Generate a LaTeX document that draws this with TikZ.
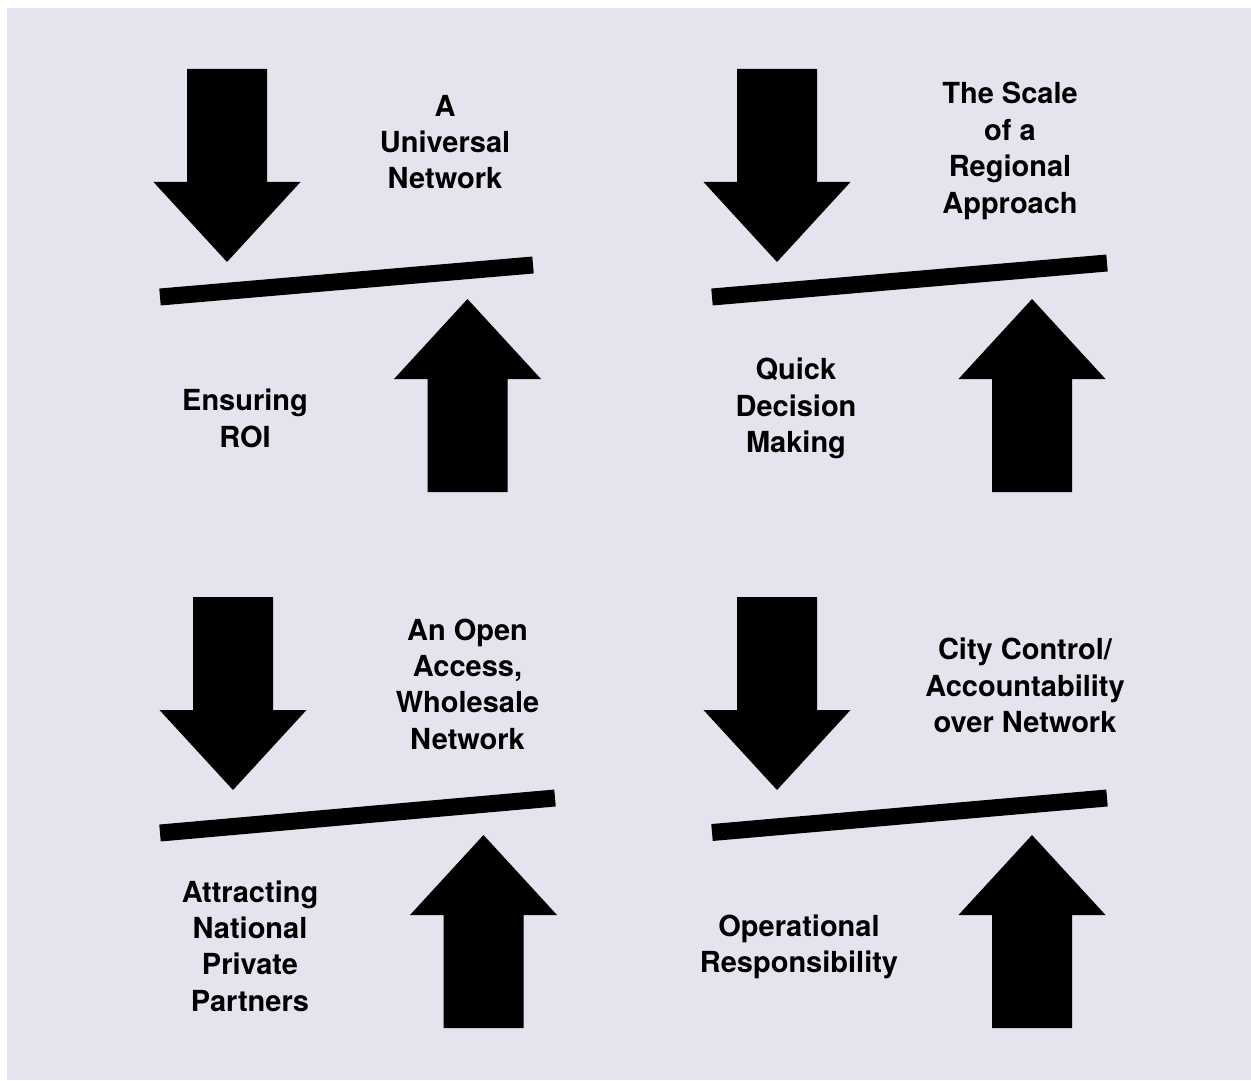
\documentclass[tikz,border=0pt]{standalone}
\usepackage{fontspec}
\usepackage{xcolor}
\usepackage{tikz}
\setmainfont{TeX Gyre Heros}
\definecolor{softgrey}{RGB}{228, 228, 238}

\tikzset{
	pushdown/.pic = {\fill (-40,0) -- (40,0) -- (40,113) -- (73.5,113) -- (0,193) -- (-73.5,113) -- (-40,113) -- cycle;},
	pushup/.pic = {\fill (0,0) -- (73.5,80) -- (40,80) -- (40,193) -- (-40,193) -- (-40,80) -- (-73.5,80) -- cycle;}
}

\begin{document}
\begin{tikzpicture}[x = 0.5pt, y = -0.5pt,
	lbl/.style = {align = center, inner sep = 0pt, font = \bfseries\fontsize{14.5}{18.2}\selectfont},
	bar/.style = {line width = 8.5pt}]
	\useasboundingbox (0,0) rectangle (1251,1080);
	\fill [white] (0,0) rectangle (1251,1080);
	\fill [softgrey] (7,8) rectangle (1251,1080);
	% top left
	\pic at (227,69) {pushdown};
	\pic at (467.5,299) {pushup};
	\draw [bar] (160,297) -- (533,265);
	\node (univ) at (445,142) [lbl] {A\\Universal\\Network};
	\node (roi) at (245,418.5) [lbl] {Ensuring\\ROI};
	% top right
	\pic at (777,69) {pushdown};
	\pic at (1032,299) {pushup};
	\draw [bar] (712,297) -- (1107,263);
	\node (scale) at (1010,151) [lbl] {The Scale\\of a\\Regional\\Approach};
	\node (quick) at (796,408.5) [lbl] {Quick\\Decision\\Making};
	% bottom left
	\pic at (233,597) {pushdown};
	\pic at (483.5,835) {pushup};
	\draw [bar] (160,833) -- (555,798);
	\node (open) at (467.5,684) [lbl] {An Open\\Access,\\Wholesale\\Network};
	\node (attract) at (250,946) [lbl] {Attracting\\National\\Private\\Partners};
	% bottom right
	\pic at (777,597) {pushdown};
	\pic at (1032,835) {pushup};
	\draw [bar] (712,832.5) -- (1107,798);
	\node (city) at (1025,685.5) [lbl] {City Control/\\Accountability\\over Network};
	\node (oper) at (799,947) [lbl] {Operational\\Responsibility};
\end{tikzpicture}
\end{document}
